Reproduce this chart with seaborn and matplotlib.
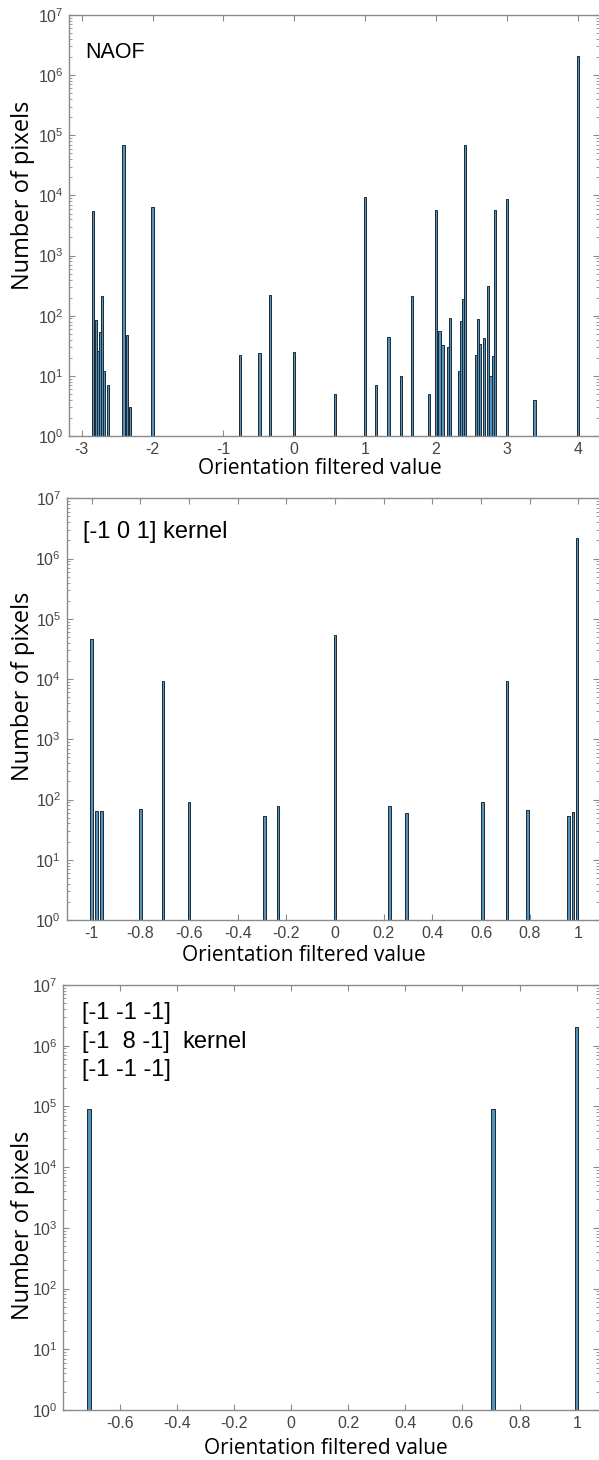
import numpy as np
import matplotlib
matplotlib.use("Agg")
import matplotlib.pyplot as plt
from matplotlib.ticker import FixedLocator, LogLocator, LogFormatterSciNotation, NullFormatter
import seaborn as sns

# histogram bins (bin centre, pixel count)
naof_vals = [-2.836, -2.802, -2.774, -2.741, -2.713, -2.681, -2.624, -2.41, -2.36, -2.32,
             -2.0, -0.77, -0.49, -0.34, 0.0, 0.57, 1.0, 1.15, 1.33, 1.51, 1.66, 1.9,
             2.0, 2.05, 2.09, 2.17, 2.2, 2.32, 2.35, 2.38, 2.41, 2.56, 2.59, 2.62,
             2.68, 2.73, 2.77, 2.80, 2.83, 3.0, 3.39, 4.0]
naof_counts = [5600, 85, 26, 54, 210, 12, 7, 69000, 48, 3,
               6500, 22, 24, 220, 25, 5, 9300, 7, 44, 10, 210, 5,
               5800, 55, 32, 30, 91, 12, 83, 190, 69000, 22, 88, 34,
               43, 310, 10, 21, 5800, 8700, 4, 2100000]

k101_vals = [-1.0, -0.98, -0.96, -0.80, -0.707, -0.60, -0.29, -0.235, 0.0, 0.225,
             0.294, 0.605, 0.707, 0.79, 0.96, 0.978, 0.995]
k101_counts = [47000, 64, 64, 69, 9100, 90, 54, 79, 54000, 78,
               59, 90, 9100, 67, 54, 61, 2200000]

lap_vals = [-0.707, 0.707, 1.0]
lap_counts = [91000, 91000, 2060000]

sns.set_theme(style="ticks")
plt.rcParams["axes.unicode_minus"] = False
plt.rcParams["font.family"] = ["Liberation Sans", "DejaVu Sans"]

face = "#5293bf"
edge = "#1d2a33"
spine_col = "#8a8a8a"
tick_col = "#444444"

fig = plt.figure(figsize=(5.99, 14.6), dpi=100)
W, H = 599.0, 1460.0

panels = [
    dict(vals=naof_vals, counts=naof_counts, bw=0.032, box=(69, 15, 599, 436),
         xlim=(-3.179, 4.30), xticks=[-3, -2, -1, 0, 1, 2, 3, 4],
         xlab=(0.474, -0.052), ylab=(-0.064, 0.572)),
    dict(vals=k101_vals, counts=k101_counts, bw=0.011, box=(66.7, 498.3, 599, 920),
         xlim=(-1.103, 1.085), xticks=[-1, -0.8, -0.6, -0.4, -0.2, 0, 0.2, 0.4, 0.6, 0.8, 1],
         xlab=(0.446, -0.060), ylab=(-0.060, 0.553)),
    dict(vals=lap_vals, counts=lap_counts, bw=0.011, box=(63.3, 985, 599, 1410),
         xlim=(-0.797, 1.078), xticks=[-0.6, -0.4, -0.2, 0, 0.2, 0.4, 0.6, 0.8, 1],
         xlab=(0.49, -0.066), ylab=(-0.053, 0.435)),
]

axes = []
for p in panels:
    l, t, r, b = p["box"]
    ax = fig.add_axes([l / W, 1 - b / H, (r - l) / W, (b - t) / H])
    vals = np.array(p["vals"])
    mind = np.diff(np.sort(vals)).min() if len(vals) > 1 else 1.0
    sns.barplot(x=p["vals"], y=p["counts"], native_scale=True, ax=ax,
                width=p["bw"] / mind, color=face, saturation=1,
                edgecolor=edge, linewidth=0.7, errorbar=None, log_scale=(False, True))
    ax.set_yscale("log")
    ax.set_ylim(1, 1e7)
    ax.set_xlim(*p["xlim"])
    ax.xaxis.set_major_locator(FixedLocator(p["xticks"]))
    ax.set_xticklabels(["%g" % v for v in p["xticks"]])
    ax.yaxis.set_major_locator(FixedLocator(10.0 ** np.arange(8)))
    ax.yaxis.set_major_formatter(LogFormatterSciNotation())
    ax.yaxis.set_minor_locator(LogLocator(base=10, subs=np.arange(2, 10), numticks=20))
    ax.yaxis.set_minor_formatter(NullFormatter())
    ax.tick_params(which="both", direction="in", top=True, right=True,
                   color=spine_col, labelcolor=tick_col, labelsize=11.5, pad=4)
    ax.tick_params(which="major", length=4.5, width=0.8)
    ax.tick_params(which="minor", length=2.5, width=0.6)
    for s in ax.spines.values():
        s.set_color(spine_col)
        s.set_linewidth(1.0)
    ax.spines["right"].set_visible(False)
    ax.set_xlabel("Orientation filtered value", fontsize=15, family="Open Sans", color="black")
    ax.set_ylabel("Number of pixels", fontsize=17, family="Open Sans", color="black")
    ax.xaxis.set_label_coords(*p["xlab"])
    ax.yaxis.set_label_coords(*p["ylab"])
    axes.append(ax)

axes[0].text(0.03, 0.91, "NAOF", transform=axes[0].transAxes, fontsize=15.5,
             va="center", ha="left", color="black")
axes[1].text(0.031, 0.919, "[-1 0 1] kernel", transform=axes[1].transAxes, fontsize=17,
             va="center", ha="left", color="black")
for yy, s in zip([0.934, 0.866, 0.800], ["[-1 -1 -1]", "[-1  8 -1]", "[-1 -1 -1]"]):
    axes[2].text(0.034, yy, s, transform=axes[2].transAxes, fontsize=17,
                 va="center", ha="left", color="black")
axes[2].text(0.223, 0.866, "kernel", transform=axes[2].transAxes, fontsize=17,
             va="center", ha="left", color="black")

fig.savefig("out.png", dpi=100)
